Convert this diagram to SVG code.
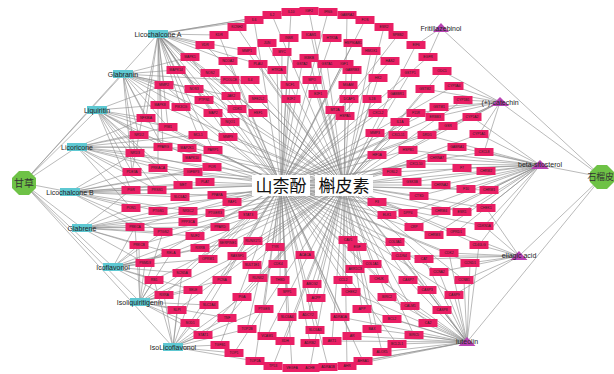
<svg xmlns="http://www.w3.org/2000/svg" width="614" height="374" viewBox="0 0 614 374">
<style>
.e{fill:none;stroke:#8c8c8c;stroke-width:.6;stroke-linejoin:round}
.t rect{fill:#e91f64}
.t text{font-family:"Liberation Sans",Arial,sans-serif;font-size:3.4px;fill:#222;text-anchor:middle}
.c rect{fill:#5ec8d2}
.c text,.m text{font-family:"Liberation Sans",Arial,sans-serif;font-size:7px;fill:#222;text-anchor:middle}
.m path{fill:#b842b3}
.h polygon{fill:#6ec246}
.h text{font-family:"Noto Sans CJK SC",sans-serif;font-size:10px;fill:#333}
.k rect{fill:#fff}
.k text{font-family:"Noto Sans CJK SC",serif;font-size:17px;fill:#111;text-anchor:middle}
</style>
<rect width="614" height="374" fill="#fff"/>
<g id="connectors">
<path class="e" d="M281 185L291 12M281 185L328 12M281 185L365 20M281 185L398 35M281 185L428 57M281 185L454 86M281 185L472 117M281 185L484 152M281 185L489 190M281 185L484 226M281 185L470 263M281 185L454 295M281 185L428 323M281 185L397 344M281 185L363 361M281 185L328 367M281 185L292 368M281 185L255 361M281 185L220 345M281 185L190 323M281 185L164 295M281 185L145 263M281 185L135 227M281 185L131 190M281 185L135 153M281 185L146 118M281 185L164 85M281 185L190 57M281 185L219 35M281 185L254 20M281 185L289 38M281 185L332 38M281 185L353 43M281 185L282 52M281 185L228 61M281 185L302 64M281 185L344 64M281 185L390 61M281 185L277 70M281 185L230 80M281 185L290 85M281 185L348 85M281 185L397 94M281 185L231 96M281 185L291 99M281 185L349 99M281 185L204 100M281 185L237 109M281 185L335 110M281 185L378 113M281 185L230 122M281 185L181 107M281 185L439 107M281 185L435 117M281 185L427 135M281 185L408 150M281 185L416 164M281 185L412 182M281 185L466 189M281 185L441 211M281 185L408 213M281 185L434 235M281 185L395 242M281 185L449 253M281 185L439 272M281 185L427 290M281 185L392 319M281 185L379 279M281 185L355 269M281 185L351 292M281 185L340 317M281 185L352 336M281 185L310 343M281 185L315 330M281 185L287 317M281 185L287 292M281 185L280 280M281 185L278 264M281 185L305 255M281 185L222 280M281 185L264 309M281 185L247 329M281 185L209 305M281 185L182 273M281 185L208 259M281 185L195 236M281 185L188 222M281 185L158 211M281 185L157 190M281 185L158 168M281 185L192 158M281 185L187 148M281 185L168 127M281 185L213 150M281 185L205 182M281 185L232 202M281 185L248 215M281 185L228 243M281 185L275 247M281 185L398 135M281 185L392 172M281 185L387 215M281 185L357 247"/>
<path class="e" d="M344 185L309 11M344 185L347 15M344 185L384 27M344 185L416 45M344 185L442 71M344 185L463 100M344 185L479 134M344 185L486 171M344 185L486 208M344 185L479 245M344 185L464 280M344 185L442 310M344 185L414 335M344 185L382 352M344 185L347 366M344 185L310 368M344 185L273 366M344 185L234 353M344 185L203 335M344 185L177 310M344 185L154 280M344 185L139 245M344 185L131 208M344 185L132 172M344 185L139 135M344 185L160 105M344 185L176 70M344 185L205 45M344 185L237 27M344 185L272 15M344 185L311 35M344 185L267 43M344 185L247 51M344 185L371 51M344 185L309 58M344 185L327 64M344 185L352 70M344 185L258 64M344 185L210 73M344 185L250 80M344 185L312 80M344 185L378 78M344 185L410 73M344 185L258 99M344 185L318 94M344 185L372 99M344 185L213 113M344 185L258 113M344 185L345 116M344 185L400 122M344 185L194 89M344 185L425 89M344 185L416 113M344 185L448 126M344 185L457 147M344 185L437 158M344 185L462 168M344 185L441 185M344 185L419 196M344 185L462 212M344 185L414 227M344 185L456 232M344 185L401 256M344 185L424 259M344 185L408 280M344 185L410 306M344 185L387 297M344 185L372 264M344 185L343 280M344 185L362 309M344 185L372 329M344 185L332 341M344 185L285 341M344 185L308 315M344 185L316 298M344 185L312 284M344 185L258 278M344 185L252 265M344 185L237 256M344 185L242 297M344 185L227 318M344 185L267 336M344 185L193 290M344 185L171 253M344 185L200 248M344 185L163 232M344 185L188 211M344 185L180 197M344 185L183 185M344 185L193 172M344 185L163 147M344 185L198 135M344 185L228 137M344 185L212 167M344 185L217 195M344 185L215 213M344 185L220 227M344 185L253 241M344 185L375 133M344 185L377 155M344 185L377 202M344 185L348 240"/>
<path class="e" d="M23 183L158 34M23 183L123 74M23 183L97 110M23 183L77 147M23 183L70 192M23 183L82 228M23 183L113 267M23 183L140 302M23 183L173 347"/>
<path class="e" d="M602 177L441 28M602 177L500 102M602 177L540 165M602 177L519 256M602 177L467 342"/>
<path class="e" d="M158 34L190 57M158 34L176 70M158 34L164 85M158 34L194 89M158 34L160 105M158 34L181 107M158 34L146 118M158 34L205 45M158 34L219 35M158 34L254 20M158 34L210 73M158 34L231 96M158 34L204 100M158 34L237 109M158 34L230 122M158 34L213 150M158 34L228 137M158 34L158 168M158 34L272 15M158 34L163 147M158 34L228 61M158 34L258 113M158 34L213 113M158 34L291 12M158 34L168 127M158 34L198 135M158 34L132 172M158 34L258 64M158 34L247 51"/>
<path class="e" d="M123 74L176 70M123 74L164 85M123 74L194 89M123 74L146 118M123 74L181 107M123 74L160 105M123 74L204 100M123 74L139 135M123 74L132 172M123 74L190 57M123 74L135 153M123 74L213 113M123 74L168 127M123 74L163 147M123 74L231 96M123 74L230 80"/>
<path class="e" d="M97 110L146 118M97 110L160 105M97 110L139 135M97 110L135 153M97 110L163 147M97 110L132 172M97 110L168 127M97 110L158 168M97 110L131 190M97 110L157 190M97 110L183 185M97 110L164 85M97 110L192 158M97 110L213 150"/>
<path class="e" d="M77 147L139 135M77 147L135 153M77 147L163 147M77 147L132 172M77 147L158 168M77 147L131 190M77 147L131 208M77 147L187 148M77 147L193 172M77 147L157 190M77 147L198 135M77 147L146 118M77 147L168 127M77 147L212 167"/>
<path class="e" d="M70 192L131 190M70 192L157 190M70 192L183 185M70 192L180 197M70 192L132 172M70 192L131 208M70 192L158 211M70 192L188 211M70 192L135 227M70 192L163 232M70 192L205 182M70 192L212 167M70 192L135 153M70 192L193 172M70 192L217 195"/>
<path class="e" d="M82 228L135 227M82 228L163 232M82 228L131 208M82 228L158 211M82 228L139 245M82 228L188 222M82 228L195 236M82 228L145 263M82 228L220 227M82 228L215 213M82 228L171 253M82 228L131 190M82 228L188 211"/>
<path class="e" d="M113 267L145 263M113 267L154 280M113 267L139 245M113 267L171 253M113 267L182 273M113 267L164 295M113 267L163 232M113 267L208 259M113 267L200 248M113 267L193 290M113 267L135 227M113 267L195 236M113 267L228 243"/>
<path class="e" d="M140 302L164 295M140 302L154 280M140 302L177 310M140 302L190 323M140 302L193 290M140 302L182 273M140 302L145 263M140 302L171 253M140 302L222 280M140 302L209 305M140 302L203 335M140 302L227 318M140 302L139 245M140 302L163 232M140 302L135 227M140 302L237 256"/>
<path class="e" d="M173 347L190 323M173 347L177 310M173 347L203 335M173 347L220 345M173 347L209 305M173 347L227 318M173 347L164 295M173 347L193 290M173 347L234 353M173 347L242 297M173 347L182 273M173 347L247 329M173 347L154 280M173 347L255 361M173 347L264 309"/>
<path class="e" d="M441 28L416 45M441 28L428 57"/>
<path class="e" d="M500 102L463 100M500 102L472 117M500 102L454 86M500 102L479 134M500 102L439 107M500 102L435 117M500 102L448 126M500 102L425 89M500 102L484 152M500 102L416 113M500 102L442 71M500 102L408 150M500 102L427 135"/>
<path class="e" d="M540 165L479 134M540 165L484 152M540 165L486 171M540 165L489 190M540 165L462 168M540 165L466 189M540 165L437 158M540 165L441 185M540 165L486 208M540 165L441 211M540 165L462 212M540 165L434 235M540 165L457 147M540 165L427 135M540 165L416 164M540 165L412 182M540 165L484 226M540 165L456 232M540 165L419 196M540 165L414 227M540 165L408 213M540 165L479 245M540 165L408 150M540 165L392 172M540 165L472 117"/>
<path class="e" d="M519 256L449 253M519 256L470 263M519 256L464 280M519 256L479 245M519 256L439 272M519 256L424 259M519 256L486 208M519 256L484 226M519 256L454 295M519 256L401 256M519 256L456 232"/>
<path class="e" d="M467 342L464 280M467 342L454 295M467 342L442 310M467 342L428 323M467 342L414 335M467 342L427 290M467 342L410 306M467 342L392 319M467 342L408 280M467 342L387 297M467 342L439 272M467 342L449 253M467 342L424 259M467 342L382 352M467 342L397 344M467 342L363 361M467 342L347 366M467 342L372 329M467 342L352 336M467 342L332 341M467 342L362 309M467 342L340 317M467 342L379 279M467 342L401 256M467 342L395 242M467 342L470 263M467 342L479 245M467 342L351 292M467 342L328 367"/>
</g>
<g id="targets">
<g id="t-IL10" class="t" transform="translate(291 12)"><rect x="-9.5" y="-4" width="19" height="8"/><text y="1.2">IL10</text></g>
<g id="t-IGF2" class="t" transform="translate(309 11)"><rect x="-9.5" y="-4" width="19" height="8"/><text y="1.2">IGF2</text></g>
<g id="t-IFNG" class="t" transform="translate(328 12)"><rect x="-9.5" y="-4" width="19" height="8"/><text y="1.2">IFNG</text></g>
<g id="t-GABRA2" class="t" transform="translate(347 15)"><rect x="-9.5" y="-4" width="19" height="8"/><text y="1.2">GABRA2</text></g>
<g id="t-FOS" class="t" transform="translate(365 20)"><rect x="-9.5" y="-4" width="19" height="8"/><text y="1.2">FOS</text></g>
<g id="t-ESR2" class="t" transform="translate(384 27)"><rect x="-9.5" y="-4" width="19" height="8"/><text y="1.2">ESR2</text></g>
<g id="t-SPBB2" class="t" transform="translate(398 35)"><rect x="-9.5" y="-4" width="19" height="8"/><text y="1.2">SPBB2</text></g>
<g id="t-EIF6" class="t" transform="translate(416 45)"><rect x="-9.5" y="-4" width="19" height="8"/><text y="1.2">EIF6</text></g>
<g id="t-EGFR" class="t" transform="translate(428 57)"><rect x="-9.5" y="-4" width="19" height="8"/><text y="1.2">EGFR</text></g>
<g id="t-ODC1" class="t" transform="translate(442 71)"><rect x="-9.5" y="-4" width="19" height="8"/><text y="1.2">ODC1</text></g>
<g id="t-CYP3A4" class="t" transform="translate(454 86)"><rect x="-9.5" y="-4" width="19" height="8"/><text y="1.2">CYP3A4</text></g>
<g id="t-CYP1B1" class="t" transform="translate(463 100)"><rect x="-9.5" y="-4" width="19" height="8"/><text y="1.2">CYP1B1</text></g>
<g id="t-CYP1A2" class="t" transform="translate(472 117)"><rect x="-9.5" y="-4" width="19" height="8"/><text y="1.2">CYP1A2</text></g>
<g id="t-CYP1A1" class="t" transform="translate(479 134)"><rect x="-9.5" y="-4" width="19" height="8"/><text y="1.2">CYP1A1</text></g>
<g id="t-CXCL8" class="t" transform="translate(484 152)"><rect x="-9.5" y="-4" width="19" height="8"/><text y="1.2">CXCL8</text></g>
<g id="t-CHRM2" class="t" transform="translate(486 171)"><rect x="-9.5" y="-4" width="19" height="8"/><text y="1.2">CHRM2</text></g>
<g id="t-CHRM1" class="t" transform="translate(489 190)"><rect x="-9.5" y="-4" width="19" height="8"/><text y="1.2">CHRM1</text></g>
<g id="t-CHEK1" class="t" transform="translate(486 208)"><rect x="-9.5" y="-4" width="19" height="8"/><text y="1.2">CHEK1</text></g>
<g id="t-CDKN1A" class="t" transform="translate(484 226)"><rect x="-9.5" y="-4" width="19" height="8"/><text y="1.2">CDKN1A</text></g>
<g id="t-CD40LG" class="t" transform="translate(479 245)"><rect x="-9.5" y="-4" width="19" height="8"/><text y="1.2">CD40LG</text></g>
<g id="t-CCND1" class="t" transform="translate(470 263)"><rect x="-9.5" y="-4" width="19" height="8"/><text y="1.2">CCND1</text></g>
<g id="t-CCNB1" class="t" transform="translate(464 280)"><rect x="-9.5" y="-4" width="19" height="8"/><text y="1.2">CCNB1</text></g>
<g id="t-CASP9" class="t" transform="translate(454 295)"><rect x="-9.5" y="-4" width="19" height="8"/><text y="1.2">CASP9</text></g>
<g id="t-CASP8" class="t" transform="translate(442 310)"><rect x="-9.5" y="-4" width="19" height="8"/><text y="1.2">CASP8</text></g>
<g id="t-CA2" class="t" transform="translate(428 323)"><rect x="-9.5" y="-4" width="19" height="8"/><text y="1.2">CA2</text></g>
<g id="t-BIRC5" class="t" transform="translate(414 335)"><rect x="-9.5" y="-4" width="19" height="8"/><text y="1.2">BIRC5</text></g>
<g id="t-BCL2L1" class="t" transform="translate(397 344)"><rect x="-9.5" y="-4" width="19" height="8"/><text y="1.2">BCL2L1</text></g>
<g id="t-ALOX5" class="t" transform="translate(382 352)"><rect x="-9.5" y="-4" width="19" height="8"/><text y="1.2">ALOX5</text></g>
<g id="t-AHSA1" class="t" transform="translate(363 361)"><rect x="-9.5" y="-4" width="19" height="8"/><text y="1.2">AHSA1</text></g>
<g id="t-AHR" class="t" transform="translate(347 366)"><rect x="-9.5" y="-4" width="19" height="8"/><text y="1.2">AHR</text></g>
<g id="t-ADRA1B" class="t" transform="translate(328 367)"><rect x="-9.5" y="-4" width="19" height="8"/><text y="1.2">ADRA1B</text></g>
<g id="t-ACHE" class="t" transform="translate(310 368)"><rect x="-9.5" y="-4" width="19" height="8"/><text y="1.2">ACHE</text></g>
<g id="t-VEGFA" class="t" transform="translate(292 368)"><rect x="-9.5" y="-4" width="19" height="8"/><text y="1.2">VEGFA</text></g>
<g id="t-TP53" class="t" transform="translate(273 366)"><rect x="-9.5" y="-4" width="19" height="8"/><text y="1.2">TP53</text></g>
<g id="t-TOP2A" class="t" transform="translate(255 361)"><rect x="-9.5" y="-4" width="19" height="8"/><text y="1.2">TOP2A</text></g>
<g id="t-TOP1" class="t" transform="translate(234 353)"><rect x="-9.5" y="-4" width="19" height="8"/><text y="1.2">TOP1</text></g>
<g id="t-TGFB1" class="t" transform="translate(220 345)"><rect x="-9.5" y="-4" width="19" height="8"/><text y="1.2">TGFB1</text></g>
<g id="t-STAT1" class="t" transform="translate(203 335)"><rect x="-9.5" y="-4" width="19" height="8"/><text y="1.2">STAT1</text></g>
<g id="t-SOD1" class="t" transform="translate(190 323)"><rect x="-9.5" y="-4" width="19" height="8"/><text y="1.2">SOD1</text></g>
<g id="t-SLPI" class="t" transform="translate(177 310)"><rect x="-9.5" y="-4" width="19" height="8"/><text y="1.2">SLPI</text></g>
<g id="t-RXRA" class="t" transform="translate(164 295)"><rect x="-9.5" y="-4" width="19" height="8"/><text y="1.2">RXRA</text></g>
<g id="t-RB1" class="t" transform="translate(154 280)"><rect x="-9.5" y="-4" width="19" height="8"/><text y="1.2">RB1</text></g>
<g id="t-PSMD3" class="t" transform="translate(145 263)"><rect x="-9.5" y="-4" width="19" height="8"/><text y="1.2">PSMD3</text></g>
<g id="t-PRKCB" class="t" transform="translate(139 245)"><rect x="-9.5" y="-4" width="19" height="8"/><text y="1.2">PRKCB</text></g>
<g id="t-PRKCA" class="t" transform="translate(135 227)"><rect x="-9.5" y="-4" width="19" height="8"/><text y="1.2">PRKCA</text></g>
<g id="t-PON1" class="t" transform="translate(131 208)"><rect x="-9.5" y="-4" width="19" height="8"/><text y="1.2">PON1</text></g>
<g id="t-PGR" class="t" transform="translate(131 190)"><rect x="-9.5" y="-4" width="19" height="8"/><text y="1.2">PGR</text></g>
<g id="t-PDE3A" class="t" transform="translate(132 172)"><rect x="-9.5" y="-4" width="19" height="8"/><text y="1.2">PDE3A</text></g>
<g id="t-NR1I3" class="t" transform="translate(135 153)"><rect x="-9.5" y="-4" width="19" height="8"/><text y="1.2">NR1I3</text></g>
<g id="t-NR1I2" class="t" transform="translate(139 135)"><rect x="-9.5" y="-4" width="19" height="8"/><text y="1.2">NR1I2</text></g>
<g id="t-NFKBIA" class="t" transform="translate(146 118)"><rect x="-9.5" y="-4" width="19" height="8"/><text y="1.2">NFKBIA</text></g>
<g id="t-MAPK8" class="t" transform="translate(160 105)"><rect x="-9.5" y="-4" width="19" height="8"/><text y="1.2">MAPK8</text></g>
<g id="t-MMP2" class="t" transform="translate(164 85)"><rect x="-9.5" y="-4" width="19" height="8"/><text y="1.2">MMP2</text></g>
<g id="t-MAPK14" class="t" transform="translate(176 70)"><rect x="-9.5" y="-4" width="19" height="8"/><text y="1.2">MAPK14</text></g>
<g id="t-MAPK1" class="t" transform="translate(190 57)"><rect x="-9.5" y="-4" width="19" height="8"/><text y="1.2">MAPK1</text></g>
<g id="t-VDR" class="t" transform="translate(205 45)"><rect x="-9.5" y="-4" width="19" height="8"/><text y="1.2">VDR</text></g>
<g id="t-KDR" class="t" transform="translate(219 35)"><rect x="-9.5" y="-4" width="19" height="8"/><text y="1.2">KDR</text></g>
<g id="t-KCNH2" class="t" transform="translate(237 27)"><rect x="-9.5" y="-4" width="19" height="8"/><text y="1.2">KCNH2</text></g>
<g id="t-IL6" class="t" transform="translate(254 20)"><rect x="-9.5" y="-4" width="19" height="8"/><text y="1.2">IL6</text></g>
<g id="t-IL2" class="t" transform="translate(272 15)"><rect x="-9.5" y="-4" width="19" height="8"/><text y="1.2">IL2</text></g>
<g id="t-INSR" class="t" transform="translate(289 38)"><rect x="-9.5" y="-4" width="19" height="8"/><text y="1.2">INSR</text></g>
<g id="t-ICAM1" class="t" transform="translate(311 35)"><rect x="-9.5" y="-4" width="19" height="8"/><text y="1.2">ICAM1</text></g>
<g id="t-HTR3A" class="t" transform="translate(332 38)"><rect x="-9.5" y="-4" width="19" height="8"/><text y="1.2">HTR3A</text></g>
<g id="t-JUN" class="t" transform="translate(267 43)"><rect x="-9.5" y="-4" width="19" height="8"/><text y="1.2">JUN</text></g>
<g id="t-HSP90AB1" class="t" transform="translate(353 43)"><rect x="-9.5" y="-4" width="19" height="8"/><text y="1.2">HSP90AB1</text></g>
<g id="t-MMP1" class="t" transform="translate(247 51)"><rect x="-9.5" y="-4" width="19" height="8"/><text y="1.2">MMP1</text></g>
<g id="t-MYC" class="t" transform="translate(282 52)"><rect x="-9.5" y="-4" width="19" height="8"/><text y="1.2">MYC</text></g>
<g id="t-HMOX1" class="t" transform="translate(371 51)"><rect x="-9.5" y="-4" width="19" height="8"/><text y="1.2">HMOX1</text></g>
<g id="t-NCOA2" class="t" transform="translate(228 61)"><rect x="-9.5" y="-4" width="19" height="8"/><text y="1.2">NCOA2</text></g>
<g id="t-IKBKB" class="t" transform="translate(309 58)"><rect x="-9.5" y="-4" width="19" height="8"/><text y="1.2">IKBKB</text></g>
<g id="t-GSTA2" class="t" transform="translate(302 64)"><rect x="-9.5" y="-4" width="19" height="8"/><text y="1.2">GSTA2</text></g>
<g id="t-GSTA1" class="t" transform="translate(327 64)"><rect x="-9.5" y="-4" width="19" height="8"/><text y="1.2">GSTA1</text></g>
<g id="t-IGF1" class="t" transform="translate(344 64)"><rect x="-9.5" y="-4" width="19" height="8"/><text y="1.2">IGF1</text></g>
<g id="t-GABRB3" class="t" transform="translate(352 70)"><rect x="-9.5" y="-4" width="19" height="8"/><text y="1.2">GABRB3</text></g>
<g id="t-HAS2" class="t" transform="translate(390 61)"><rect x="-9.5" y="-4" width="19" height="8"/><text y="1.2">HAS2</text></g>
<g id="t-PLAU" class="t" transform="translate(258 64)"><rect x="-9.5" y="-4" width="19" height="8"/><text y="1.2">PLAU</text></g>
<g id="t-HTR2A" class="t" transform="translate(277 70)"><rect x="-9.5" y="-4" width="19" height="8"/><text y="1.2">HTR2A</text></g>
<g id="t-NOS2" class="t" transform="translate(210 73)"><rect x="-9.5" y="-4" width="19" height="8"/><text y="1.2">NOS2</text></g>
<g id="t-PCOLCE" class="t" transform="translate(230 80)"><rect x="-9.5" y="-4" width="19" height="8"/><text y="1.2">PCOLCE</text></g>
<g id="t-IL4" class="t" transform="translate(250 80)"><rect x="-9.5" y="-4" width="19" height="8"/><text y="1.2">IL4</text></g>
<g id="t-NCF1" class="t" transform="translate(290 85)"><rect x="-9.5" y="-4" width="19" height="8"/><text y="1.2">NCF1</text></g>
<g id="t-MPO" class="t" transform="translate(312 80)"><rect x="-9.5" y="-4" width="19" height="8"/><text y="1.2">MPO</text></g>
<g id="t-MGAM" class="t" transform="translate(348 85)"><rect x="-9.5" y="-4" width="19" height="8"/><text y="1.2">MGAM</text></g>
<g id="t-HK2" class="t" transform="translate(378 78)"><rect x="-9.5" y="-4" width="19" height="8"/><text y="1.2">HK2</text></g>
<g id="t-GABBR1" class="t" transform="translate(397 94)"><rect x="-9.5" y="-4" width="19" height="8"/><text y="1.2">GABBR1</text></g>
<g id="t-GSTP1" class="t" transform="translate(410 73)"><rect x="-9.5" y="-4" width="19" height="8"/><text y="1.2">GSTP1</text></g>
<g id="t-JAK2" class="t" transform="translate(231 96)"><rect x="-9.5" y="-4" width="19" height="8"/><text y="1.2">JAK2</text></g>
<g id="t-NFE2L2" class="t" transform="translate(258 99)"><rect x="-9.5" y="-4" width="19" height="8"/><text y="1.2">NFE2L2</text></g>
<g id="t-E2F2" class="t" transform="translate(291 99)"><rect x="-9.5" y="-4" width="19" height="8"/><text y="1.2">E2F2</text></g>
<g id="t-E2F1" class="t" transform="translate(318 94)"><rect x="-9.5" y="-4" width="19" height="8"/><text y="1.2">E2F1</text></g>
<g id="t-DCAF5" class="t" transform="translate(349 99)"><rect x="-9.5" y="-4" width="19" height="8"/><text y="1.2">DCAF5</text></g>
<g id="t-IL1B" class="t" transform="translate(372 99)"><rect x="-9.5" y="-4" width="19" height="8"/><text y="1.2">IL1B</text></g>
<g id="t-PTPN1" class="t" transform="translate(204 100)"><rect x="-9.5" y="-4" width="19" height="8"/><text y="1.2">PTPN1</text></g>
<g id="t-MAP2" class="t" transform="translate(213 113)"><rect x="-9.5" y="-4" width="19" height="8"/><text y="1.2">MAP2</text></g>
<g id="t-CDK1" class="t" transform="translate(237 109)"><rect x="-9.5" y="-4" width="19" height="8"/><text y="1.2">CDK1</text></g>
<g id="t-HSF1" class="t" transform="translate(258 113)"><rect x="-9.5" y="-4" width="19" height="8"/><text y="1.2">HSF1</text></g>
<g id="t-MT2A" class="t" transform="translate(335 110)"><rect x="-9.5" y="-4" width="19" height="8"/><text y="1.2">MT2A</text></g>
<g id="t-HSPA5" class="t" transform="translate(345 116)"><rect x="-9.5" y="-4" width="19" height="8"/><text y="1.2">HSPA5</text></g>
<g id="t-CXCL2" class="t" transform="translate(378 113)"><rect x="-9.5" y="-4" width="19" height="8"/><text y="1.2">CXCL2</text></g>
<g id="t-IL1A" class="t" transform="translate(400 122)"><rect x="-9.5" y="-4" width="19" height="8"/><text y="1.2">IL1A</text></g>
<g id="t-NQO1" class="t" transform="translate(230 122)"><rect x="-9.5" y="-4" width="19" height="8"/><text y="1.2">NQO1</text></g>
<g id="t-NOS3" class="t" transform="translate(194 89)"><rect x="-9.5" y="-4" width="19" height="8"/><text y="1.2">NOS3</text></g>
<g id="t-PIK3CG" class="t" transform="translate(181 107)"><rect x="-9.5" y="-4" width="19" height="8"/><text y="1.2">PIK3CG</text></g>
<g id="t-GSTM2" class="t" transform="translate(425 89)"><rect x="-9.5" y="-4" width="19" height="8"/><text y="1.2">GSTM2</text></g>
<g id="t-GSTM1" class="t" transform="translate(439 107)"><rect x="-9.5" y="-4" width="19" height="8"/><text y="1.2">GSTM1</text></g>
<g id="t-F11R" class="t" transform="translate(416 113)"><rect x="-9.5" y="-4" width="19" height="8"/><text y="1.2">F11R</text></g>
<g id="t-ERBB3" class="t" transform="translate(435 117)"><rect x="-9.5" y="-4" width="19" height="8"/><text y="1.2">ERBB3</text></g>
<g id="t-GSR" class="t" transform="translate(448 126)"><rect x="-9.5" y="-4" width="19" height="8"/><text y="1.2">GSR</text></g>
<g id="t-DRD1" class="t" transform="translate(427 135)"><rect x="-9.5" y="-4" width="19" height="8"/><text y="1.2">DRD1</text></g>
<g id="t-GABRA1" class="t" transform="translate(457 147)"><rect x="-9.5" y="-4" width="19" height="8"/><text y="1.2">GABRA1</text></g>
<g id="t-HSPB1" class="t" transform="translate(408 150)"><rect x="-9.5" y="-4" width="19" height="8"/><text y="1.2">HSPB1</text></g>
<g id="t-CHRNA7" class="t" transform="translate(437 158)"><rect x="-9.5" y="-4" width="19" height="8"/><text y="1.2">CHRNA7</text></g>
<g id="t-CXCL10" class="t" transform="translate(416 164)"><rect x="-9.5" y="-4" width="19" height="8"/><text y="1.2">CXCL10</text></g>
<g id="t-F7" class="t" transform="translate(462 168)"><rect x="-9.5" y="-4" width="19" height="8"/><text y="1.2">F7</text></g>
<g id="t-GSK3B" class="t" transform="translate(412 182)"><rect x="-9.5" y="-4" width="19" height="8"/><text y="1.2">GSK3B</text></g>
<g id="t-CHRNA2" class="t" transform="translate(441 185)"><rect x="-9.5" y="-4" width="19" height="8"/><text y="1.2">CHRNA2</text></g>
<g id="t-F10" class="t" transform="translate(466 189)"><rect x="-9.5" y="-4" width="19" height="8"/><text y="1.2">F10</text></g>
<g id="t-CTSD" class="t" transform="translate(419 196)"><rect x="-9.5" y="-4" width="19" height="8"/><text y="1.2">CTSD</text></g>
<g id="t-CHRM4" class="t" transform="translate(441 211)"><rect x="-9.5" y="-4" width="19" height="8"/><text y="1.2">CHRM4</text></g>
<g id="t-ESR1" class="t" transform="translate(462 212)"><rect x="-9.5" y="-4" width="19" height="8"/><text y="1.2">ESR1</text></g>
<g id="t-DPP4" class="t" transform="translate(408 213)"><rect x="-9.5" y="-4" width="19" height="8"/><text y="1.2">DPP4</text></g>
<g id="t-CRP" class="t" transform="translate(414 227)"><rect x="-9.5" y="-4" width="19" height="8"/><text y="1.2">CRP</text></g>
<g id="t-CHRM3" class="t" transform="translate(434 235)"><rect x="-9.5" y="-4" width="19" height="8"/><text y="1.2">CHRM3</text></g>
<g id="t-OPRD1" class="t" transform="translate(456 232)"><rect x="-9.5" y="-4" width="19" height="8"/><text y="1.2">OPRD1</text></g>
<g id="t-COL3A1" class="t" transform="translate(395 242)"><rect x="-9.5" y="-4" width="19" height="8"/><text y="1.2">COL3A1</text></g>
<g id="t-CLDN4" class="t" transform="translate(401 256)"><rect x="-9.5" y="-4" width="19" height="8"/><text y="1.2">CLDN4</text></g>
<g id="t-CDK2" class="t" transform="translate(449 253)"><rect x="-9.5" y="-4" width="19" height="8"/><text y="1.2">CDK2</text></g>
<g id="t-CAT" class="t" transform="translate(424 259)"><rect x="-9.5" y="-4" width="19" height="8"/><text y="1.2">CAT</text></g>
<g id="t-CCNA2" class="t" transform="translate(439 272)"><rect x="-9.5" y="-4" width="19" height="8"/><text y="1.2">CCNA2</text></g>
<g id="t-CASP7" class="t" transform="translate(408 280)"><rect x="-9.5" y="-4" width="19" height="8"/><text y="1.2">CASP7</text></g>
<g id="t-CASP3" class="t" transform="translate(427 290)"><rect x="-9.5" y="-4" width="19" height="8"/><text y="1.2">CASP3</text></g>
<g id="t-CALM1" class="t" transform="translate(410 306)"><rect x="-9.5" y="-4" width="19" height="8"/><text y="1.2">CALM1</text></g>
<g id="t-BCL2" class="t" transform="translate(392 319)"><rect x="-9.5" y="-4" width="19" height="8"/><text y="1.2">BCL2</text></g>
<g id="t-BIRC2" class="t" transform="translate(387 297)"><rect x="-9.5" y="-4" width="19" height="8"/><text y="1.2">BIRC2</text></g>
<g id="t-CHUK" class="t" transform="translate(379 279)"><rect x="-9.5" y="-4" width="19" height="8"/><text y="1.2">CHUK</text></g>
<g id="t-COL1A1" class="t" transform="translate(372 264)"><rect x="-9.5" y="-4" width="19" height="8"/><text y="1.2">COL1A1</text></g>
<g id="t-AKR1C3" class="t" transform="translate(355 269)"><rect x="-9.5" y="-4" width="19" height="8"/><text y="1.2">AKR1C3</text></g>
<g id="t-CCL2" class="t" transform="translate(343 280)"><rect x="-9.5" y="-4" width="19" height="8"/><text y="1.2">CCL2</text></g>
<g id="t-CHEK2" class="t" transform="translate(351 292)"><rect x="-9.5" y="-4" width="19" height="8"/><text y="1.2">CHEK2</text></g>
<g id="t-APP" class="t" transform="translate(362 309)"><rect x="-9.5" y="-4" width="19" height="8"/><text y="1.2">APP</text></g>
<g id="t-ADRA1A" class="t" transform="translate(340 317)"><rect x="-9.5" y="-4" width="19" height="8"/><text y="1.2">ADRA1A</text></g>
<g id="t-BAX" class="t" transform="translate(372 329)"><rect x="-9.5" y="-4" width="19" height="8"/><text y="1.2">BAX</text></g>
<g id="t-AR" class="t" transform="translate(352 336)"><rect x="-9.5" y="-4" width="19" height="8"/><text y="1.2">AR</text></g>
<g id="t-AKT1" class="t" transform="translate(332 341)"><rect x="-9.5" y="-4" width="19" height="8"/><text y="1.2">AKT1</text></g>
<g id="t-ADRB2" class="t" transform="translate(310 343)"><rect x="-9.5" y="-4" width="19" height="8"/><text y="1.2">ADRB2</text></g>
<g id="t-XDH" class="t" transform="translate(285 341)"><rect x="-9.5" y="-4" width="19" height="8"/><text y="1.2">XDH</text></g>
<g id="t-SLC6A3" class="t" transform="translate(315 330)"><rect x="-9.5" y="-4" width="19" height="8"/><text y="1.2">SLC6A3</text></g>
<g id="t-ADCY2" class="t" transform="translate(308 315)"><rect x="-9.5" y="-4" width="19" height="8"/><text y="1.2">ADCY2</text></g>
<g id="t-SLC6A4" class="t" transform="translate(287 317)"><rect x="-9.5" y="-4" width="19" height="8"/><text y="1.2">SLC6A4</text></g>
<g id="t-ACPP" class="t" transform="translate(316 298)"><rect x="-9.5" y="-4" width="19" height="8"/><text y="1.2">ACPP</text></g>
<g id="t-SPP1" class="t" transform="translate(287 292)"><rect x="-9.5" y="-4" width="19" height="8"/><text y="1.2">SPP1</text></g>
<g id="t-ABCG2" class="t" transform="translate(312 284)"><rect x="-9.5" y="-4" width="19" height="8"/><text y="1.2">ABCG2</text></g>
<g id="t-THBD" class="t" transform="translate(280 280)"><rect x="-9.5" y="-4" width="19" height="8"/><text y="1.2">THBD</text></g>
<g id="t-RUNX2" class="t" transform="translate(258 278)"><rect x="-9.5" y="-4" width="19" height="8"/><text y="1.2">RUNX2</text></g>
<g id="t-CDK4" class="t" transform="translate(278 264)"><rect x="-9.5" y="-4" width="19" height="8"/><text y="1.2">CDK4</text></g>
<g id="t-SULT1E1" class="t" transform="translate(252 265)"><rect x="-9.5" y="-4" width="19" height="8"/><text y="1.2">SULT1E1</text></g>
<g id="t-ACACA" class="t" transform="translate(305 255)"><rect x="-9.5" y="-4" width="19" height="8"/><text y="1.2">ACACA</text></g>
<g id="t-RASSF1" class="t" transform="translate(237 256)"><rect x="-9.5" y="-4" width="19" height="8"/><text y="1.2">RASSF1</text></g>
<g id="t-PCNA" class="t" transform="translate(222 280)"><rect x="-9.5" y="-4" width="19" height="8"/><text y="1.2">PCNA</text></g>
<g id="t-PGA" class="t" transform="translate(242 297)"><rect x="-9.5" y="-4" width="19" height="8"/><text y="1.2">PGA</text></g>
<g id="t-PTGES" class="t" transform="translate(264 309)"><rect x="-9.5" y="-4" width="19" height="8"/><text y="1.2">PTGES</text></g>
<g id="t-TNF" class="t" transform="translate(227 318)"><rect x="-9.5" y="-4" width="19" height="8"/><text y="1.2">TNF</text></g>
<g id="t-TOP2B" class="t" transform="translate(247 329)"><rect x="-9.5" y="-4" width="19" height="8"/><text y="1.2">TOP2B</text></g>
<g id="t-VCAM1" class="t" transform="translate(267 336)"><rect x="-9.5" y="-4" width="19" height="8"/><text y="1.2">VCAM1</text></g>
<g id="t-SLC2A4" class="t" transform="translate(209 305)"><rect x="-9.5" y="-4" width="19" height="8"/><text y="1.2">SLC2A4</text></g>
<g id="t-SELE" class="t" transform="translate(193 290)"><rect x="-9.5" y="-4" width="19" height="8"/><text y="1.2">SELE</text></g>
<g id="t-SCN5A" class="t" transform="translate(182 273)"><rect x="-9.5" y="-4" width="19" height="8"/><text y="1.2">SCN5A</text></g>
<g id="t-RELA" class="t" transform="translate(171 253)"><rect x="-9.5" y="-4" width="19" height="8"/><text y="1.2">RELA</text></g>
<g id="t-OPRM1" class="t" transform="translate(208 259)"><rect x="-9.5" y="-4" width="19" height="8"/><text y="1.2">OPRM1</text></g>
<g id="t-RXRB" class="t" transform="translate(200 248)"><rect x="-9.5" y="-4" width="19" height="8"/><text y="1.2">RXRB</text></g>
<g id="t-NUF2" class="t" transform="translate(195 236)"><rect x="-9.5" y="-4" width="19" height="8"/><text y="1.2">NUF2</text></g>
<g id="t-PTGS2" class="t" transform="translate(163 232)"><rect x="-9.5" y="-4" width="19" height="8"/><text y="1.2">PTGS2</text></g>
<g id="t-PPP3CA" class="t" transform="translate(188 222)"><rect x="-9.5" y="-4" width="19" height="8"/><text y="1.2">PPP3CA</text></g>
<g id="t-NR3C2" class="t" transform="translate(188 211)"><rect x="-9.5" y="-4" width="19" height="8"/><text y="1.2">NR3C2</text></g>
<g id="t-PTGS1" class="t" transform="translate(158 211)"><rect x="-9.5" y="-4" width="19" height="8"/><text y="1.2">PTGS1</text></g>
<g id="t-SLC6A2" class="t" transform="translate(180 197)"><rect x="-9.5" y="-4" width="19" height="8"/><text y="1.2">SLC6A2</text></g>
<g id="t-PRSS1" class="t" transform="translate(157 190)"><rect x="-9.5" y="-4" width="19" height="8"/><text y="1.2">PRSS1</text></g>
<g id="t-MET" class="t" transform="translate(183 185)"><rect x="-9.5" y="-4" width="19" height="8"/><text y="1.2">MET</text></g>
<g id="t-PRKACA" class="t" transform="translate(158 168)"><rect x="-9.5" y="-4" width="19" height="8"/><text y="1.2">PRKACA</text></g>
<g id="t-IGFBP3" class="t" transform="translate(193 172)"><rect x="-9.5" y="-4" width="19" height="8"/><text y="1.2">IGFBP3</text></g>
<g id="t-MAPK10" class="t" transform="translate(192 158)"><rect x="-9.5" y="-4" width="19" height="8"/><text y="1.2">MAPK10</text></g>
<g id="t-PPARG" class="t" transform="translate(163 147)"><rect x="-9.5" y="-4" width="19" height="8"/><text y="1.2">PPARG</text></g>
<g id="t-MAP2K1" class="t" transform="translate(187 148)"><rect x="-9.5" y="-4" width="19" height="8"/><text y="1.2">MAP2K1</text></g>
<g id="t-MCL1" class="t" transform="translate(198 135)"><rect x="-9.5" y="-4" width="19" height="8"/><text y="1.2">MCL1</text></g>
<g id="t-PIM1" class="t" transform="translate(168 127)"><rect x="-9.5" y="-4" width="19" height="8"/><text y="1.2">PIM1</text></g>
<g id="t-MMP9" class="t" transform="translate(228 137)"><rect x="-9.5" y="-4" width="19" height="8"/><text y="1.2">MMP9</text></g>
<g id="t-PARP1" class="t" transform="translate(213 150)"><rect x="-9.5" y="-4" width="19" height="8"/><text y="1.2">PARP1</text></g>
<g id="t-POR" class="t" transform="translate(212 167)"><rect x="-9.5" y="-4" width="19" height="8"/><text y="1.2">POR</text></g>
<g id="t-PLAT" class="t" transform="translate(205 182)"><rect x="-9.5" y="-4" width="19" height="8"/><text y="1.2">PLAT</text></g>
<g id="t-PPARA" class="t" transform="translate(217 195)"><rect x="-9.5" y="-4" width="19" height="8"/><text y="1.2">PPARA</text></g>
<g id="t-RAF1" class="t" transform="translate(232 202)"><rect x="-9.5" y="-4" width="19" height="8"/><text y="1.2">RAF1</text></g>
<g id="t-PTGER3" class="t" transform="translate(215 213)"><rect x="-9.5" y="-4" width="19" height="8"/><text y="1.2">PTGER3</text></g>
<g id="t-STAT3" class="t" transform="translate(248 215)"><rect x="-9.5" y="-4" width="19" height="8"/><text y="1.2">STAT3</text></g>
<g id="t-PPARD" class="t" transform="translate(220 227)"><rect x="-9.5" y="-4" width="19" height="8"/><text y="1.2">PPARD</text></g>
<g id="t-SERPINE1" class="t" transform="translate(228 243)"><rect x="-9.5" y="-4" width="19" height="8"/><text y="1.2">SERPINE1</text></g>
<g id="t-RUNX1T1" class="t" transform="translate(253 241)"><rect x="-9.5" y="-4" width="19" height="8"/><text y="1.2">RUNX1T1</text></g>
<g id="t-TYR" class="t" transform="translate(275 247)"><rect x="-9.5" y="-4" width="19" height="8"/><text y="1.2">TYR</text></g>
<g id="t-MMP3" class="t" transform="translate(375 133)"><rect x="-9.5" y="-4" width="19" height="8"/><text y="1.2">MMP3</text></g>
<g id="t-CXCL11" class="t" transform="translate(398 135)"><rect x="-9.5" y="-4" width="19" height="8"/><text y="1.2">CXCL11</text></g>
<g id="t-HIF1A" class="t" transform="translate(377 155)"><rect x="-9.5" y="-4" width="19" height="8"/><text y="1.2">HIF1A</text></g>
<g id="t-FOSL2" class="t" transform="translate(392 172)"><rect x="-9.5" y="-4" width="19" height="8"/><text y="1.2">FOSL2</text></g>
<g id="t-F3" class="t" transform="translate(377 202)"><rect x="-9.5" y="-4" width="19" height="8"/><text y="1.2">F3</text></g>
<g id="t-ELK1" class="t" transform="translate(387 215)"><rect x="-9.5" y="-4" width="19" height="8"/><text y="1.2">ELK1</text></g>
<g id="t-CAV1" class="t" transform="translate(348 240)"><rect x="-9.5" y="-4" width="19" height="8"/><text y="1.2">CAV1</text></g>
<g id="t-EGF" class="t" transform="translate(357 247)"><rect x="-9.5" y="-4" width="19" height="8"/><text y="1.2">EGF</text></g>
</g>
<g id="hub">
<g id="h-kaempferol" class="k"><rect x="252" y="175" width="58" height="21"/><text x="281" y="192">山柰酚</text></g>
<g id="h-quercetin" class="k"><rect x="315" y="175" width="58" height="21"/><text x="344" y="192">槲皮素</text></g>
</g>
<g id="compounds">
<g id="c-licochalconeA" class="c" transform="translate(158 34)"><rect x="-10" y="-4" width="20" height="8"/><text y="2.5">Licochalcone A</text></g>
<g id="c-glabranin" class="c" transform="translate(123 74)"><rect x="-10" y="-4" width="20" height="8"/><text y="2.5">Glabranin</text></g>
<g id="c-liquiritin" class="c" transform="translate(97 110)"><rect x="-10" y="-4" width="20" height="8"/><text y="2.5">Liquiritin</text></g>
<g id="c-licoricone" class="c" transform="translate(77 147)"><rect x="-10" y="-4" width="20" height="8"/><text y="2.5">Licoricone</text></g>
<g id="c-licochalconeB" class="c" transform="translate(70 192)"><rect x="-10" y="-4" width="20" height="8"/><text y="2.5">Licochalcone B</text></g>
<g id="c-glabrene" class="c" transform="translate(82 228)"><rect x="-10" y="-4" width="20" height="8"/><text y="2.5">Glabrene</text></g>
<g id="c-icoflavonol" class="c" transform="translate(113 267)"><rect x="-10" y="-4" width="20" height="8"/><text y="2.5">Icoflavonol</text></g>
<g id="c-isoliquiritigenin" class="c" transform="translate(140 302)"><rect x="-10" y="-4" width="20" height="8"/><text y="2.5">Isoliquiritigenin</text></g>
<g id="c-isolicoflavonol" class="c" transform="translate(173 347)"><rect x="-10" y="-4" width="20" height="8"/><text y="2.5">IsoLicoflavonol</text></g>
<g id="c-fritillazebinol" class="m" transform="translate(441 28)"><path d="M0 -5L8 4H-8Z"/><text y="2.5">Fritillazebinol</text></g>
<g id="c-catechin" class="m" transform="translate(500 102)"><path d="M0 -5L9 4H-9Z"/><text y="2.5">(+)-catechin</text></g>
<g id="c-sitosterol" class="m" transform="translate(540 165)"><path d="M0 -5L9 4H-9Z"/><text y="2">beta-sitosterol</text></g>
<g id="c-ellagic" class="m" transform="translate(519 256)"><path d="M0 -5L8.5 4H-8.5Z"/><text y="2">ellagic acid</text></g>
<g id="c-luteolin" class="m" transform="translate(467 342)"><path d="M0 -5L8.5 4H-8.5Z"/><text y="1.5">luteolin</text></g>
</g>
<g id="herbs">
<g id="herb-gancao" class="h" transform="translate(24 183)"><polygon points="12,5 5,12 -5,12 -12,5 -12,-5 -5,-12 5,-12 12,-5"/><text x="-10" y="3.5">甘草</text></g>
<g id="herb-shiliupi" class="h" transform="translate(602 177)"><polygon points="12,5 5,12 -5,12 -12,5 -12,-5 -5,-12 5,-12 12,-5"/><text x="-14.5" y="3.2" style="font-size:8.8px">石榴皮</text></g>
</g>
</svg>
